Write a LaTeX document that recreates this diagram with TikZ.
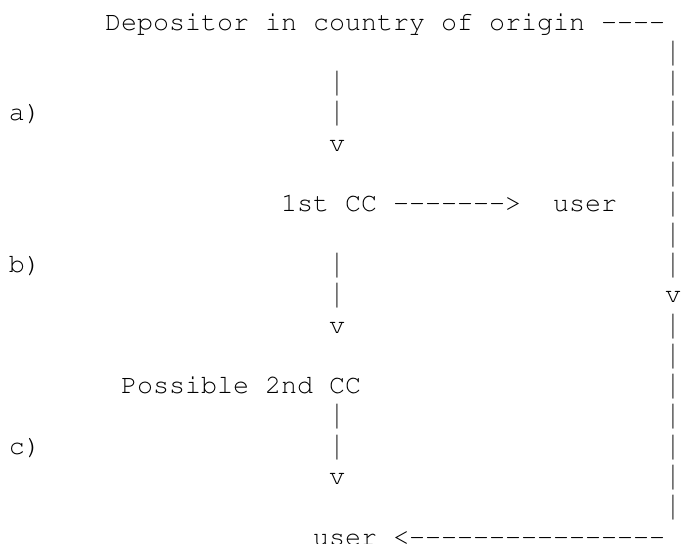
\documentclass[tikz,border=0pt]{standalone}
\usepackage[T1]{fontenc}
\usepackage{courier}
\usepackage{fontspec}
\usepackage{tikz}
\newfontfamily\barfont{Liberation Mono}
\newcommand{\dashes}[1]{\foreach \i in {1,...,#1}{-}}
\newcommand{\thinbar}{\makebox[0.6em]{\scalebox{0.55}[1]{|}}}
\newcommand{\cell}[5][]{%
  \node[asc, #1] (#2) at ({0.18+0.32*#3},{0.006-0.606*#4}) {#5};}

\begin{document}
\begin{tikzpicture}[x=1cm,y=1cm,
  asc/.style={font=\fontencoding{T1}\fontfamily{pcr}\fontsize{15.18pt}{18pt}\selectfont,
    anchor=base west, inner sep=0pt, outer sep=0pt},
  vbar/.style={font=\barfont\fontsize{15.18pt}{18pt}\selectfont, text=black!80}]
  \useasboundingbox (0,0) rectangle (13.62,-10.88);
  % labels of the three steps
  \cell{stepa}{0}{4}{a)}
  \cell{stepb}{0}{9}{b)}
  \cell{stepc}{0}{15}{c)}
  % text lines
  \cell{dep}{6}{1}{Depositor in country of origin \dashes{4}}
  \cell{cca}{17}{7}{1st CC \dashes{7}>\ \ user}
  \cell{ccb}{7}{13}{Possible 2nd CC}
  \cell{usr}{19}{18}{user <\dashes{16}}
  % middle column
  \foreach \r in {3,4,9,10,14,15}{
    \cell[vbar]{mb\r}{20}{\r}{\thinbar}}
  \foreach \r in {5,11,16}{
    \cell{mv\r}{20}{\r}{v}}
  % right column
  \foreach \r in {2,...,9,11,12,...,17}{
    \cell[vbar]{rb\r}{41}{\r}{\thinbar}}
  \cell{rv}{41}{10}{v}
\end{tikzpicture}
\end{document}
